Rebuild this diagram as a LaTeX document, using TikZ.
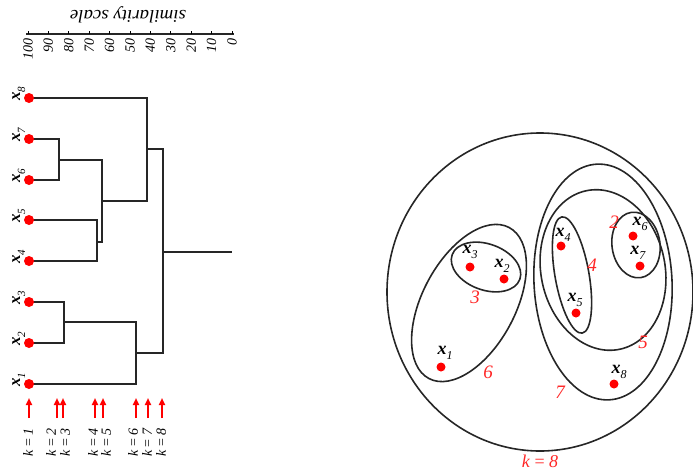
\documentclass[tikz,border=0pt]{standalone}
\usepackage{fontspec}
\setmainfont{Liberation Serif}
\usetikzlibrary{shapes.geometric,arrows.meta}
\newcommand\xl[2][11]{\textbf{\textit{x}}\raisebox{-0.3em}{\fontsize{#1}{#1}\selectfont\textit{#2}}}
\begin{document}
\begin{tikzpicture}[x=1pt,y=-1pt,
  dot/.style={circle,fill=red,inner sep=0pt,minimum size=10pt},
  pdot/.style={circle,fill=red,inner sep=0pt,minimum size=9pt},
  lnk/.style={line width=1.8pt,black!85},
  ax/.style={line width=1.8pt,black!85},
  tck/.style={line width=0.8pt},
  ticklab/.style={rotate=90,anchor=east,inner sep=0pt,font=\fontsize{14}{14}\selectfont\itshape},
  xlab/.style={rotate=90,anchor=base west,inner sep=0pt,font=\fontsize{17}{17}\selectfont},
  klab/.style={rotate=90,anchor=east,inner sep=0pt,font=\fontsize{14}{14}\selectfont},
  karrow/.style={red,line width=1.8pt,-{Triangle[length=7pt,width=6pt]}},
  clu/.style={draw,ellipse,line width=1.6pt,black!85,inner sep=0pt},
  plab/.style={inner sep=0pt,font=\fontsize{18}{18}\selectfont},
  num/.style={red!85!white,inner sep=0pt,font=\fontsize{19}{19}\selectfont\itshape},
]
\useasboundingbox (0,0) rectangle (693,471);

% similarity scale axis
\node[rotate=180,xscale=1.05,font=\fontsize{18}{18}\selectfont\itshape,inner sep=0pt] (stitle) at (128,15) {similarity scale};
\coordinate (a0) at (26,34);
\coordinate (a1) at (234,34);
\draw[ax] (a0) -- (a1);
\foreach \v in {0,...,10}{
  \pgfmathsetmacro\xx{232-20.4*\v}
  \pgfmathtruncatemacro\lab{10*\v}
  \coordinate (tk\v) at (\xx,34);
  \coordinate (tu\v) at (\xx,31);
  \draw[tck] (tk\v) -- (tu\v);
  \node[ticklab] (tl\v) at (\xx,38) {\lab};
}

% leaves
\foreach \i/\y in {1/384,2/343,3/302,4/261,5/220,6/180,7/139,8/98}{
  \node[xlab] (lx\i) at (20,\y+3) {\xl{\i}};
}
% merge points
\coordinate (m67) at (59,160);
\coordinate (m45) at (97,242);
\coordinate (m4567) at (102,201);
\coordinate (m8) at (147,149);
\coordinate (m23) at (64,322);
\coordinate (m123) at (136,353);
\coordinate (root) at (163,252);
\coordinate (rootend) at (232,252);
\foreach \i/\y in {1/384,2/343,3/302,4/261,5/220,6/180,7/139,8/98}{
  \coordinate (lc\i) at (29,\y);
}
\draw[lnk] (lc7) -| (m67) |- (lc6);
\draw[lnk] (lc5) -| (m45) |- (lc4);
\draw[lnk] (m67) -| (m4567) |- (m45);
\draw[lnk] (lc8) -| (m8) |- (m4567);
\draw[lnk] (lc3) -| (m23) |- (lc2);
\draw[lnk] (m23) -| (m123) |- (lc1);
\draw[lnk] (m8) -| (root) |- (m123);
\draw[lnk] (root) -- (rootend);
\foreach \i in {1,...,8}{
  \node[dot] (l\i) at (lc\i) {};
}

% k arrows
\foreach \k/\x/\lx in {1/29/28,2/57/51,3/63/65,4/95/93,5/103/106,6/136/133,7/148/147,8/162/161}{
  \coordinate (ka\k) at (\x,418);
  \coordinate (kb\k) at (\x,398);
  \draw[karrow] (ka\k) -- (kb\k);
  \node[klab] (kl\k) at (\lx,428) {\textit{k} = \textit{\k}};
}

% right panel: clusters
\node[clu,minimum width=306pt,minimum height=318pt] (c8) at (540,292) {};
\node[clu,minimum width=171pt,minimum height=93pt,rotate=62] (c6) at (469,303) {};
\node[clu,minimum width=72pt,minimum height=46pt,rotate=-20] (c3) at (486,267) {};
\node[clu,minimum width=138pt,minimum height=236pt,rotate=3] (c7) at (603,282) {};
\node[clu,minimum width=124pt,minimum height=162pt,rotate=12] (c5) at (603,270) {};
\node[clu,minimum width=34pt,minimum height=118pt,rotate=10] (c4) at (572,275) {};
\node[clu,minimum width=48pt,minimum height=66pt,rotate=8] (c2) at (636,245) {};

% points
\node[pdot] (p1) at (441,367) {};
\node[pdot] (p2) at (504,279) {};
\node[pdot] (p3) at (470,267) {};
\node[pdot] (p4) at (561,246) {};
\node[pdot] (p5) at (576,313) {};
\node[pdot] (p6) at (633,236) {};
\node[pdot] (p7) at (640,266) {};
\node[pdot] (p8) at (614,384) {};
\node[plab] (px1) at (445,353) {\xl[12]{1}};
\node[plab] (px2) at (502,266) {\xl[12]{2}};
\node[plab] (px3) at (470,252) {\xl[12]{3}};
\node[plab] (px4) at (563,235) {\xl[12]{4}};
\node[plab] (px5) at (575,300) {\xl[12]{5}};
\node[plab] (px6) at (640,224) {\xl[12]{6}};
\node[plab] (px7) at (638,253) {\xl[12]{7}};
\node[plab] (px8) at (619,372) {\xl[12]{8}};

% cluster numbers
\node[num] (n3) at (475,297) {3};
\node[num] (n6) at (488,372) {6};
\node[num] (n2) at (614,222) {2};
\node[num] (n4) at (592,265) {4};
\node[num] (n5) at (643,342) {5};
\node[num] (n7) at (560,392) {7};
\node[num,font=\fontsize{18}{18}\selectfont\itshape,anchor=base] (n8) at (540,467) {k \textup{=} 8};
\end{tikzpicture}
\end{document}
